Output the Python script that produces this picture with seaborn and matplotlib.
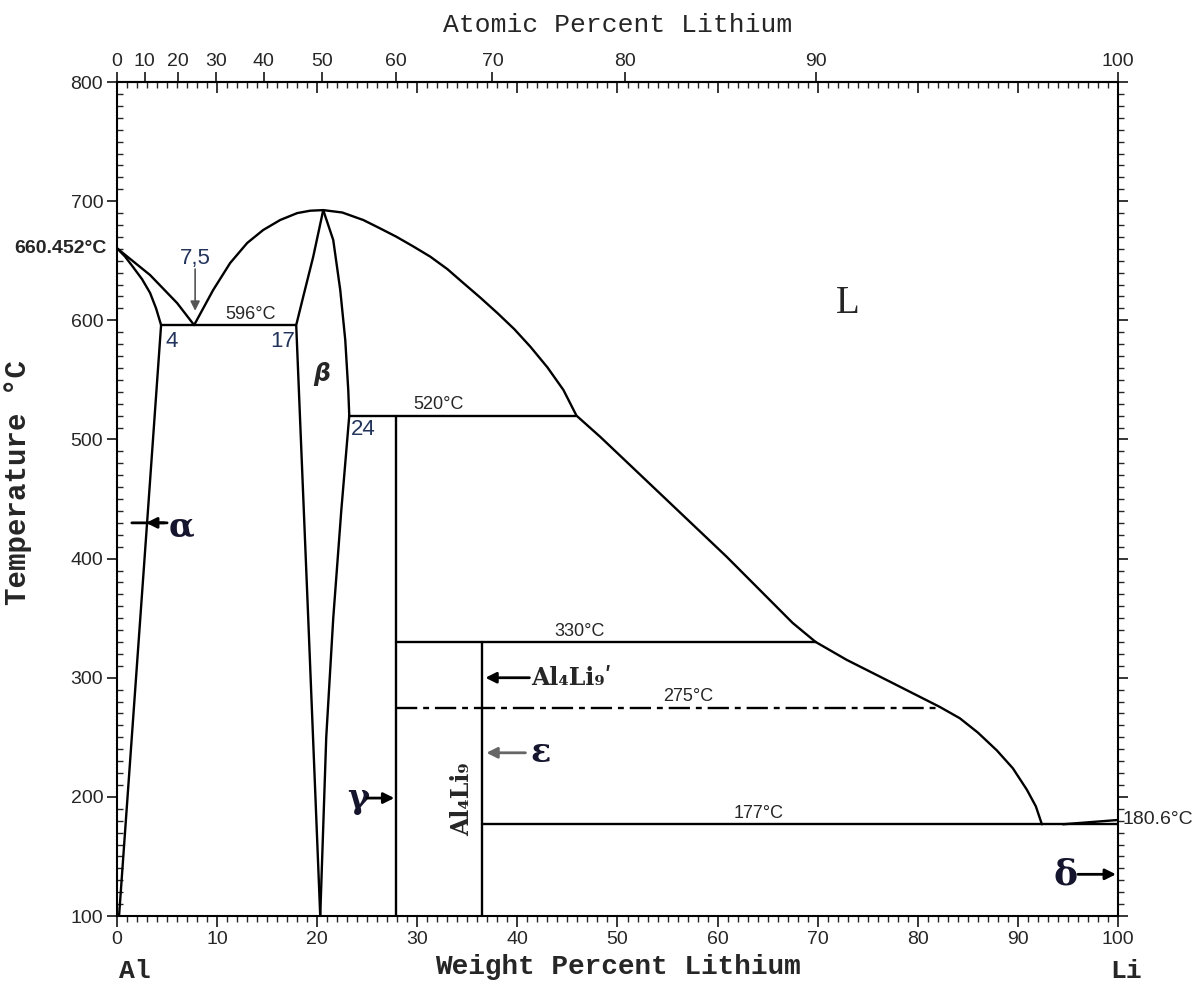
import matplotlib
matplotlib.use('Agg')
import matplotlib.pyplot as plt
import matplotlib.transforms as mtransforms
from matplotlib.ticker import MultipleLocator
import numpy as np
import pandas as pd
import seaborn as sns

# Al-Li phase diagram (wt% Li, deg C)
liquidus_wt = [0, 3.3, 6.0, 7.7, 9.6, 11.3, 13.0, 14.6, 16.3, 18.0, 19.3, 20.6, 22.5, 24.6,
               26.2, 27.9, 29.6, 31.3, 33.0, 34.6, 36.3, 38.0, 39.7, 41.3, 43.0, 44.6, 45.9,
               48.3, 54.2, 60.9, 67.5, 69.8, 72.9, 77.5, 82.2, 84.2, 86.0, 87.9, 89.5, 90.9,
               91.8, 92.4]
liquidus_T = [660.452, 638, 614.5, 596, 625.4, 648.1, 664.9, 675.8, 684.2, 690.0, 692.0, 692.5,
              690.5, 684.2, 677.5, 670.2, 662, 653.4, 643, 631.3, 619, 606.1, 592.5, 577.8,
              560.5, 541.5, 520, 502, 455, 401.6, 346, 330, 315, 295.5, 275.5, 266, 254, 239,
              224, 206, 192, 177]
alpha_sol_wt = [0, 0.8, 1.6, 2.5, 3.3, 3.9, 4.4, 3.0, 0.2]
alpha_sol_T = [660.452, 653.5, 644.7, 634.5, 623, 610, 596, 430, 100]
beta_left_wt = [20.6, 19.6, 18.6, 17.9, 19.1, 20.3]
beta_left_T = [692.5, 653.4, 619.8, 596, 350, 100]
beta_right_wt = [20.6, 21.6, 22.3, 22.8, 23.1, 23.2, 22.4, 21.6, 20.9, 20.3]
beta_right_T = [692.5, 667.4, 625.4, 583.5, 541.5, 520, 440, 350, 250, 100]
li_end_wt = [94.5, 100]
li_end_T = [177, 180.6]

# invariant lines (start wt, end wt, T)
iso_start = [4.4, 23.2, 27.9, 36.5]
iso_end = [17.9, 45.9, 69.8, 100]
iso_T = [596, 520, 330, 177]
iso_names = ['596°C', '520°C', '330°C', '177°C']
dashdot_wt = [27.9, 82.2]
dashdot_T = [275, 275]

# compounds (vertical lines)
comp_wt = [27.9, 36.5]
comp_top = [520, 330]
comp_bottom = [100, 100]

x_ticks = list(range(0, 101, 10))
y_ticks = list(range(100, 801, 100))
at_ticks = list(range(0, 101, 10))

M_LI, M_AL = 6.941, 26.98


def wt_to_at(w):
    w = np.asarray(w, dtype=float)
    with np.errstate(divide='ignore', invalid='ignore'):
        a = (w / M_LI) / (w / M_LI + (100 - w) / M_AL) * 100
    return a


def at_to_wt(a):
    a = np.asarray(a, dtype=float)
    with np.errstate(divide='ignore', invalid='ignore'):
        w = a * M_LI / (a * M_LI + (100 - a) * M_AL) * 100
    return w


rows = []
for name, xs, ys in [('liquidus', liquidus_wt, liquidus_T),
                     ('alpha', alpha_sol_wt, alpha_sol_T),
                     ('beta_l', beta_left_wt, beta_left_T),
                     ('beta_r', beta_right_wt, beta_right_T),
                     ('li_end', li_end_wt, li_end_T)]:
    for i, (x, y) in enumerate(zip(xs, ys)):
        rows.append((name, i, x, y))
for k in range(len(iso_T)):
    rows.append(('iso%d' % k, 0, iso_start[k], iso_T[k]))
    rows.append(('iso%d' % k, 1, iso_end[k], iso_T[k]))
for k in range(len(comp_wt)):
    rows.append(('comp%d' % k, 0, comp_wt[k], comp_top[k]))
    rows.append(('comp%d' % k, 1, comp_wt[k], comp_bottom[k]))
df = pd.DataFrame(rows, columns=['curve', 'order', 'wt', 'T'])

sns.set_theme(style='ticks')
plt.rcParams['font.family'] = ['Liberation Sans Narrow', 'Liberation Sans', 'DejaVu Sans']

fig = plt.figure(figsize=(12.03, 9.92), dpi=100)
ax = fig.add_axes([0.0973, 0.0766, 0.832, 0.8407])

sns.lineplot(data=df, x='wt', y='T', units='curve', estimator=None, sort=False,
             color='black', linewidth=1.7, ax=ax)
sns.lineplot(x=dashdot_wt, y=dashdot_T, color='black', linewidth=1.7,
             linestyle=(0, (9, 2.5, 2.5, 2.5)), ax=ax)

ax.set_xlim(0, 100)
ax.set_ylim(100, 800)
for s in ax.spines.values():
    s.set_linewidth(1.5)
    s.set_color('black')

tick_font = {'family': ['Liberation Sans Narrow', 'Liberation Sans', 'DejaVu Sans'], 'size': 14}
ax.set_xticks(x_ticks)
ax.set_yticks(y_ticks)
ax.set_xticklabels([str(t) for t in x_ticks], fontdict=tick_font)
ax.set_yticklabels([str(t) for t in y_ticks], fontdict=tick_font)
ax.xaxis.set_minor_locator(MultipleLocator(1))
ax.yaxis.set_minor_locator(MultipleLocator(10))
ax.tick_params(axis='x', which='major', direction='out', length=8, width=1.3, pad=3)
ax.tick_params(axis='x', which='minor', direction='out', length=4, width=1)
ax.tick_params(axis='y', which='major', direction='out', length=7, width=1.3, pad=3)
ax.tick_params(axis='y', which='minor', direction='in', length=4, width=1)

# wt% ticks on the top spine (inward)
top_wt = ax.secondary_xaxis('top')
top_wt.set_xticks(x_ticks)
top_wt.xaxis.set_minor_locator(MultipleLocator(1))
top_wt.tick_params(which='major', direction='in', length=8, width=1.3, labeltop=False)
top_wt.tick_params(which='minor', direction='in', length=4, width=1)
top_wt.spines['top'].set_linewidth(1.5)

# atomic percent scale
top_at = ax.secondary_xaxis('top', functions=(wt_to_at, at_to_wt))
top_at.set_xticks(at_ticks)
top_at.set_xticklabels([str(t) for t in at_ticks], fontdict=tick_font)
top_at.tick_params(which='major', direction='out', length=7, width=1.3, pad=2)
top_at.tick_params(which='minor', length=0)
top_at.set_xlabel('Atomic Percent Lithium', family=['Liberation Mono', 'DejaVu Sans Mono'],
                  fontsize=19, labelpad=15)

# right spine ticks
right = ax.secondary_yaxis('right')
right.set_yticks(y_ticks)
right.yaxis.set_minor_locator(MultipleLocator(10))
right.tick_params(which='major', direction='out', length=7, width=1.3, labelright=False)
right.tick_params(which='minor', direction='out', length=4, width=1)

mono = ['Liberation Mono', 'DejaVu Sans Mono']
ax.set_xlabel('Weight Percent Lithium', family=mono, fontsize=20, fontweight='bold')
ax.xaxis.set_label_coords(0.5, -0.045)
ax.set_ylabel('Temperature °C', family=mono, fontsize=21, fontweight='bold')
ax.yaxis.set_label_coords(-0.085, 0.52)

xb = mtransforms.blended_transform_factory(ax.transData, ax.transAxes)
yb = mtransforms.blended_transform_factory(ax.transAxes, ax.transData)
ax.text(1.8, -0.066, 'Al', transform=xb, family=mono, fontsize=19, fontweight='bold',
        ha='center', va='center')
ax.text(100.8, -0.066, 'Li', transform=xb, family=mono, fontsize=19, fontweight='bold',
        ha='center', va='center')
ax.text(-0.01, 660.452, '660.452°C', transform=yb, fontsize=14, fontweight='bold',
        ha='right', va='center', family=['Liberation Sans', 'DejaVu Sans'])
ax.text(1.005, 180.6, '180.6°C', transform=yb, fontsize=14,
        ha='left', va='center', family=['Liberation Sans', 'DejaVu Sans'])

# isotherm labels
iso_label_wt = [13.3, 32.1, 46.2, 64.1]
small = ['Liberation Sans', 'DejaVu Sans']
for x, T, s in zip(iso_label_wt, iso_T, iso_names):
    ax.text(x, T + 2, s, fontsize=13, ha='center', va='bottom', family=small)
ax.text(57.1, 277, '275°C', fontsize=13, ha='center', va='bottom', family=small)

# composition labels
navy = '#22345c'
for x, T, s in [(5.5, 582, '4'), (16.5, 582, '17'), (24.6, 508, '24')]:
    ax.text(x, T, s, fontsize=16, color=navy, ha='center', va='center', family=small)
ax.text(7.8, 652, '7,5', fontsize=16, color=navy, ha='center', va='center', family=small)
ax.annotate('', xy=(7.8, 608), xytext=(7.8, 643),
            arrowprops=dict(arrowstyle='-|>', color='#555555', lw=1.2, mutation_scale=14,
                            shrinkA=0, shrinkB=0))

ax.text(20.4, 555, 'β', fontsize=17, fontweight='bold', style='italic',
        ha='center', va='center', family=['DejaVu Sans'])
ax.text(73.0, 614, 'L', fontsize=28, ha='center', va='center', family=['Liberation Serif'])

serif = ['DejaVu Serif']
dark = '#15152e'
arrow_k = dict(arrowstyle='-|>', color='black', lw=2, mutation_scale=16, shrinkA=0, shrinkB=0)
ax.text(6.4, 427, 'α', fontsize=24, fontweight='bold', color=dark, ha='center', va='center',
        family=serif)
ax.annotate('', xy=(1.2, 430), xytext=(5.0, 430), arrowprops=dict(arrowstyle='-', color='black', lw=2))
ax.annotate('', xy=(2.9, 430), xytext=(5.0, 430), arrowprops=arrow_k)

ax.text(24.1, 199, 'γ', fontsize=24, fontweight='bold', color=dark, ha='center', va='center',
        family=serif)
ax.annotate('', xy=(27.7, 199), xytext=(25.0, 199), arrowprops=arrow_k)

ax.text(42.3, 237, 'ε', fontsize=24, fontweight='bold', color=dark, ha='center', va='center',
        family=serif)
ax.annotate('', xy=(36.9, 237), xytext=(40.8, 237),
            arrowprops=dict(arrowstyle='-|>', color='#666666', lw=2, mutation_scale=16,
                            shrinkA=0, shrinkB=0))

ax.text(94.8, 135, 'δ', fontsize=26, fontweight='bold', color=dark, ha='center', va='center',
        family=serif)
ax.annotate('', xy=(99.8, 135), xytext=(96.0, 135), arrowprops=arrow_k)

ax.text(41.4, 300, 'Al₄Li₉ʹ', fontsize=17, fontweight='bold', ha='left', va='center',
        family=serif)
ax.annotate('', xy=(36.8, 300), xytext=(41.2, 300), arrowprops=arrow_k)
ax.text(34.5, 198, 'Al₄Li₉', fontsize=17, fontweight='bold', rotation=90,
        ha='center', va='center', family=serif)

fig.savefig('out.png', dpi=100)
